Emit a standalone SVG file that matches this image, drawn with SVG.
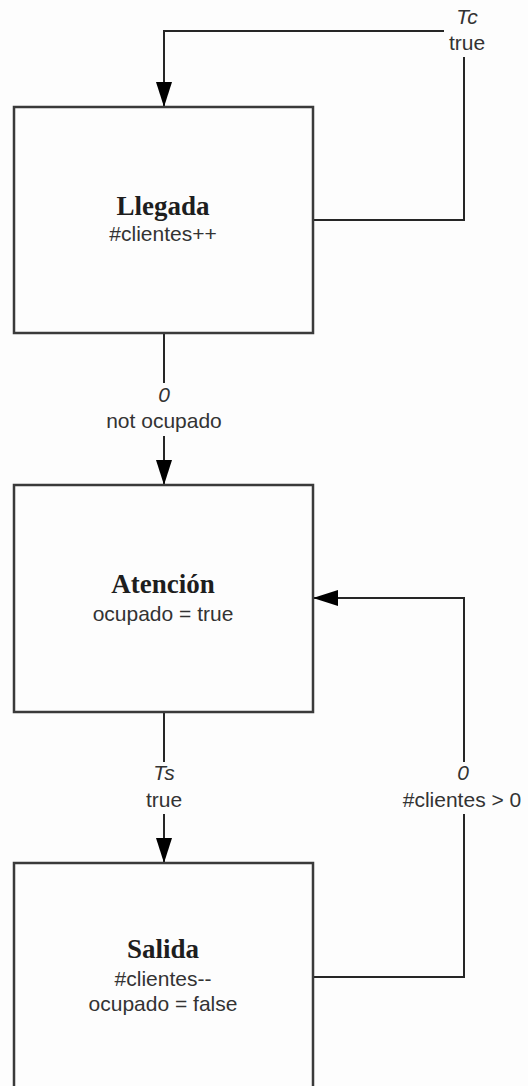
<svg xmlns="http://www.w3.org/2000/svg" width="528" height="1086" viewBox="0 0 528 1086">
  <style>
    .box { fill: #fdfdfd; stroke: #3a3a3a; stroke-width: 2.5; }
    .wire { fill: none; stroke: #262626; stroke-width: 2; }
    .title { font-family: "Liberation Serif", serif; font-weight: bold; font-size: 27px; fill: #1e1e1e; text-anchor: middle; }
    .act { font-family: "Liberation Sans", sans-serif; font-size: 21px; fill: #333; text-anchor: middle; }
    .lbl { font-family: "Liberation Sans", sans-serif; font-size: 21px; fill: #333; text-anchor: middle; }
    .dly { font-family: "Liberation Sans", sans-serif; font-style: italic; font-size: 21px; fill: #333; text-anchor: middle; }
  </style>
  <defs>
    <marker id="arrow" viewBox="0 0 25 16" refX="25" refY="8" markerWidth="25" markerHeight="16" markerUnits="userSpaceOnUse" orient="auto">
      <path d="M0,0 L25,8 L0,16 Z" fill="#000"/>
    </marker>
  </defs>
  <rect width="528" height="1086" fill="#fdfdfd"/>

  <!-- transitions between events -->
  <g id="connectors">
    <!-- Llegada schedules itself after Tc -->
    <path class="wire" d="M313,220 H464 V57"/>
    <path class="wire" d="M444,31 H164 V107" marker-end="url(#arrow)"/>
    <text class="dly" x="467" y="24">Tc</text>
    <text class="lbl" x="467" y="50">true</text>

    <!-- Llegada -> Atención -->
    <path class="wire" d="M164,333 V383"/>
    <path class="wire" d="M164,436 V485" marker-end="url(#arrow)"/>
    <text class="dly" x="164" y="402">0</text>
    <text class="lbl" x="164" y="428">not ocupado</text>

    <!-- Atención -> Salida -->
    <path class="wire" d="M164,712 V762"/>
    <path class="wire" d="M164,814 V863" marker-end="url(#arrow)"/>
    <text class="dly" x="164" y="780">Ts</text>
    <text class="lbl" x="164" y="807">true</text>

    <!-- Salida -> Atención while clients wait -->
    <path class="wire" d="M313,977 H464 V814"/>
    <path class="wire" d="M464,762 V598 H313" marker-end="url(#arrow)"/>
    <text class="dly" x="463" y="780">0</text>
    <text class="lbl" x="462" y="807">#clientes &gt; 0</text>
  </g>

  <g id="llegada">
    <rect class="box" x="14" y="107" width="299" height="226"/>
    <text class="title" x="163" y="215">Llegada</text>
    <text class="act" x="163" y="241">#clientes++</text>
  </g>

  <g id="atencion">
    <rect class="box" x="14" y="485" width="299" height="227"/>
    <text class="title" x="163" y="593">Atención</text>
    <text class="act" x="163" y="621">ocupado = true</text>
  </g>

  <g id="salida">
    <rect class="box" x="14" y="863" width="299" height="226"/>
    <text class="title" x="163" y="958">Salida</text>
    <text class="act" x="163" y="986">#clientes--</text>
    <text class="act" x="163" y="1011">ocupado = false</text>
  </g>
</svg>
